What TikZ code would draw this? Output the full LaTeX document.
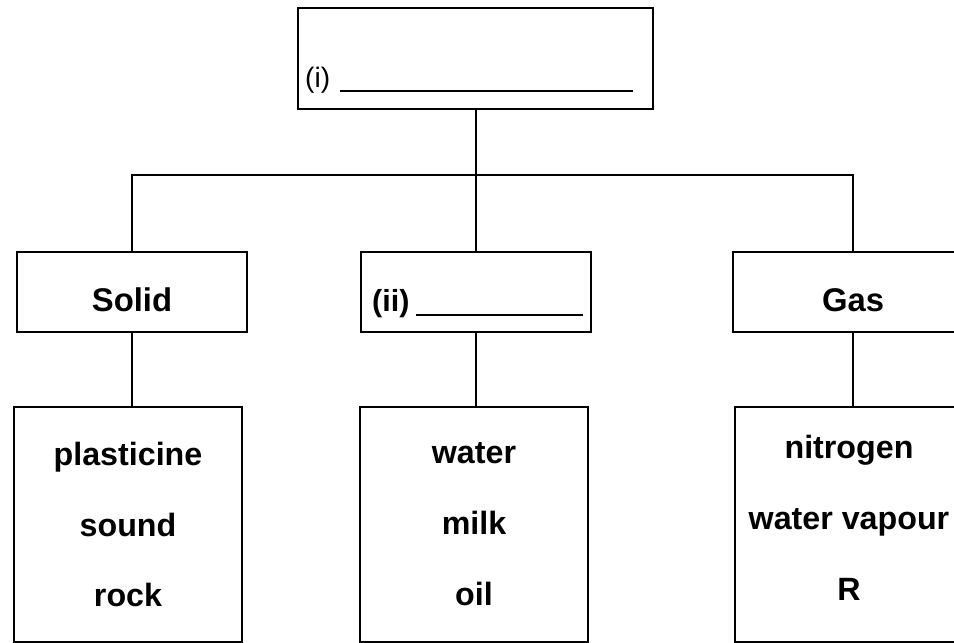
\documentclass[tikz,border=0pt]{standalone}
\usepackage{fontspec}
\setmainfont{Liberation Sans}

\tikzset{
  link/.style={line width=1.5pt},
  catbox/.style={draw,line width=1.5pt,minimum width=6.9cm,minimum height=2.4cm,
    text height=1.18cm,text depth=0pt,font=\bfseries\fontsize{28}{33}\selectfont},
  listbox/.style={draw,line width=1.5pt,minimum width=6.84cm,minimum height=7.05cm,
    align=center,font=\bfseries\fontsize{27.5}{60.5}\selectfont},
  blank/.style={anchor=base west,inner sep=0pt}
}

\begin{document}
\begin{tikzpicture}

% page frame (954 x 643 px, 1px = 0.03cm)
\def\picW{28.62}
\def\picH{19.29}
\useasboundingbox (0,0) rectangle (\picW,-\picH);
\clip (0,0) rectangle (\picW,-\picH);

% === Top box (i) ===
\node[draw,line width=1.5pt,minimum width=10.65cm,minimum height=3.03cm] (top) at (14.27,-1.755) {};
\node[blank,font=\fontsize{24}{28}\selectfont] (blanki) at (9.15,-2.64)
  {(i)\hspace{8pt}\rule[-3pt]{8.8cm}{1.6pt}};

% === States of matter ===
\def\rowB{-8.76}
\node[catbox] (solid) at (3.96,\rowB) {Solid};
\node[catbox] (liquid) at (14.27,\rowB) {};
\node[blank,font=\bfseries\fontsize{26}{30}\selectfont] (blankii) at (11.16,-9.36)
  {(ii)\hspace{6pt}\rule[-3pt]{5.0cm}{1.6pt}};
\node[catbox,minimum width=7.2cm] (gas) at (25.59,\rowB) {Gas};

% === Examples ===
\def\rowC{-15.735}
\node[listbox] (solidlist) at (3.84,\rowC) {plasticine\\sound\\rock};
\node[listbox] (liquidlist) at (14.22,\rowC) {water\\milk\\oil};
\node[listbox,text depth=0.4cm] (gaslist) at (25.47,\rowC) {nitrogen\\water vapour\\R};

% === Connectors ===
\coordinate (bus) at (0,-5.25);
\draw[link] (top.south) -- (top.south |- liquid.north);
\draw[link] (solid.north) -- (solid.north |- bus) -- (gas.north |- bus) -- (gas.north);
\draw[link] (solid.south) -- (solid.south |- solidlist.north);
\draw[link] (liquid.south) -- (liquid.south |- liquidlist.north);
\draw[link] (gas.south) -- (gas.south |- gaslist.north);

\end{tikzpicture}
\end{document}
